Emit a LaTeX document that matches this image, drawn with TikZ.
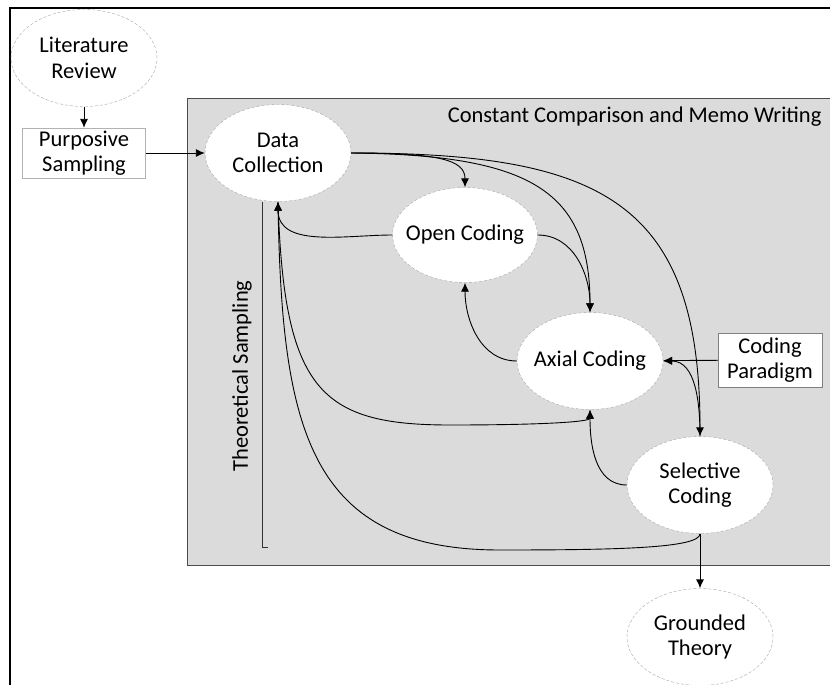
\documentclass[tikz,border=0pt]{standalone}
\usepackage{fontspec}
\setmainfont{Carlito}
\usetikzlibrary{shapes.geometric,arrows.meta}

\tikzset{
  stage/.style={ellipse, draw=gray!70, densely dashed, thin, fill=white,
    minimum width=146pt, minimum height=97pt, inner xsep=-12pt,
    inner ysep=0pt, align=center},
  inputbox/.style={rectangle, draw=gray, thin, fill=white, align=center,
    inner sep=0pt},
  flow/.style={-{Latex[length=9pt,width=8pt]}, line width=0.9pt, black},
}

\begin{document}
\begin{tikzpicture}[x=1pt, y=-1pt, font=\fontsize{22.5}{25.5}\selectfont]
    % Page
    \useasboundingbox (0,0) rectangle (830,685);
    \clip (0,0) rectangle (830,685);
    \draw[line width=1.6pt] (10,700) -- (10,8) -- (845,8);

    % Comparison area
    \draw[fill=gray!28, draw=gray!60!black, line width=0.8pt] (187,98) rectangle (845,565);
    \node[anchor=east] (memo) at (825,117) {Constant Comparison and Memo Writing};

    % Stages
    \node[stage] (lit) at (84,58) {Literature\\Review};
    \node[inputbox, draw=gray!60, minimum width=123pt, minimum height=50pt] (purp) at (84,153) {Purposive\\Sampling};
    \node[stage] (dc) at (278,153) {Data\\Collection};
    \node[stage, minimum width=145pt, minimum height=95pt] (oc) at (465,235) {Open Coding};
    \node[stage] (ac) at (590,361) {Axial Coding};
    \node[inputbox, minimum width=104pt, minimum height=54pt] (para) at (770,360) {Coding\\Paradigm};
    \node[stage] (sc) at (700,485) {Selective\\Coding};
    \node[stage] (gt) at (700,637) {Grounded\\Theory};

    % Theoretical sampling bracket
    \coordinate (ts1) at (262,202);
    \coordinate (ts2) at (262,547);
    \draw[gray!40!black, thin] (ts1) -- (ts2) -- ++(6,0);
    \node[rotate=90] (ts) at (242,376) {Theoretical Sampling};

    % Straight arrows
    \draw[flow] (lit) -- (purp);
    \draw[flow] (purp) -- (dc);
    \draw[flow] (para) -- (ac);
    \draw[flow] (sc) -- (gt);

    % From data collection
    \draw[flow] (dc.east) .. controls (440,153) and (465,160) .. (oc.north);
    \draw[flow] (dc.east) .. controls (530,155) and (590,190) .. (ac.north);
    \draw[flow] (dc.east) .. controls (600,153) and (700,200) .. (sc.north);
    \draw[flow] (dc.south) .. controls (284,390) and (320,425) .. (450,425)
        .. controls (540,425) and (590,422) .. (ac.south);

    % Back and forth between codings
    \draw[flow] (oc.east) to[out=0, in=90] (ac.north);
    \draw[flow] (oc.west) to[out=180, in=-90] (dc.south);
    \draw[flow] (ac.west) to[out=180, in=-90] (oc.south);
    \draw[flow] (sc.west) to[out=180, in=-90] (ac.south);
    \draw[flow] (sc.north) to[out=90, in=0] (ac.east);
    \draw[flow] (sc.south) .. controls (700,548) and (620,550) .. (500,550)
        .. controls (310,550) and (282,430) .. (dc.south);
\end{tikzpicture}
\end{document}
